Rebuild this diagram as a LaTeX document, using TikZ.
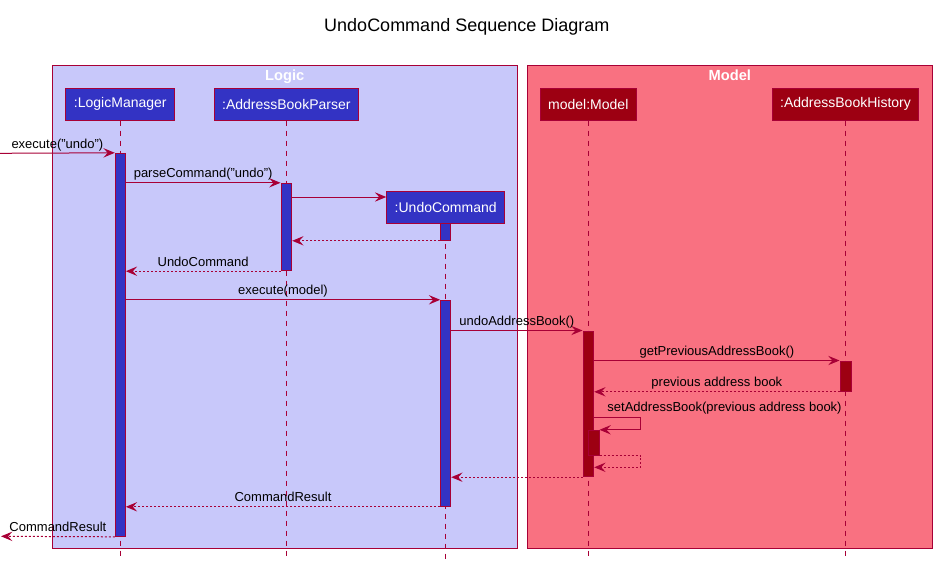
\documentclass[tikz,border=0pt]{standalone}
\usepackage{fontspec}
\setmainfont{Liberation Sans}
\usepackage{tikz}
\usetikzlibrary{arrows.meta}
\usetikzlibrary{positioning}
\usetikzlibrary{fit}

\definecolor{edge}{HTML}{A80036}
\definecolor{logicbg}{HTML}{C8C8FA}
\definecolor{modelbg}{HTML}{F97181}
\definecolor{logicpart}{HTML}{3333C4}
\definecolor{modelpart}{HTML}{9D0012}

\tikzset{
  grpbox/.style={draw=edge, line width=0.75pt, inner sep=0pt},
  grptitle/.style={text=white, anchor=base, font=\fontsize{11}{13}\selectfont\bfseries},
  lgpart/.style={draw=edge, fill=logicpart, text=white, line width=0.75pt,
    minimum height=24pt, inner xsep=6pt, font=\fontsize{10.5}{12.6}\selectfont},
  mdpart/.style={lgpart, fill=modelpart},
  lifeline/.style={draw=edge, line width=0.75pt, dash pattern=on 3.75pt off 3.75pt},
  lgact/.style={draw=edge, fill=logicpart, line width=0.75pt, inner sep=0pt},
  mdact/.style={lgact, fill=modelpart},
  msg/.style={draw=edge, line width=0.75pt,
    arrows={-Stealth[length=8.5pt, width=7pt, inset=3.2pt]}},
  ret/.style={msg, dash pattern=on 1.5pt off 1.5pt},
  lbl/.style={anchor=base, yshift=3.75pt, inner sep=0pt, text=black}
}

\begin{document}
\begin{tikzpicture}[x=0.75pt,y=-0.75pt,font=\fontsize{9.75}{11.7}\selectfont]
\useasboundingbox (0,0) rectangle (937,560);

\node[anchor=base, font=\fontsize{13.5}{16}\selectfont] (title) at (466.8,31.7) {UndoCommand Sequence Diagram};

% boxes
\node[grpbox, fill=logicbg, fit={(52.5,65.5) (517,548)}] (lgGrp) {};
\node[grpbox, fill=modelbg, fit={(527.3,65.5) (932.3,548)}] (mdGrp) {};
\node[grptitle] (lgTitle) at (lgGrp.north |- 0,80.5) {Logic};
\node[grptitle] (mdTitle) at (mdGrp.north |- 0,80.5) {Model};

% participants
\node[lgpart] (lm) at (120.3,104) {:LogicManager};
\node[lgpart] (abp) at (286.3,104) {:AddressBookParser};
\node[mdpart] (mdl) at (588.3,104) {model:Model};
\node[mdpart] (abh) at (845.5,104) {:AddressBookHistory};
\coordinate (bottom) at (0,560);
\draw[lifeline] (lm.south) -- (lm.south |- bottom);
\draw[lifeline] (abp.south) -- (abp.south |- bottom);
\draw[lifeline] (mdl.south) -- (mdl.south |- bottom);
\draw[lifeline] (abh.south) -- (abh.south |- bottom);
\draw[lifeline] (445.7,223.7) -- (445.7,560);
\node[lgpart] (uc) at (445.7,207.3) {:UndoCommand};

% activations
\node[lgact, fit={(115.3,153.3) (125.3,536.3)}] (lmA) {};
\node[lgact, fit={(281,183.3) (291.7,270.7)}] (abpA) {};
\node[lgact, fit={(440.7,223.7) (450.7,240.3)}] (ucA1) {};
\node[lgact, fit={(440.7,300.3) (450.7,506.3)}] (ucA2) {};
\node[mdact, fit={(583,331) (593.7,476.7)}] (mdlA) {};
\node[mdact, fit={(840,361) (851,391.3)}] (abhA) {};
\node[mdact, fit={(588.3,430.3) (599,455)}] (mdlA2) {};

\coordinate (in) at (0,153.3);
\coordinate (out) at (1,536.3);
\coordinate (crY) at (0,197);
\coordinate (selfR) at (640.7,417.3);
\coordinate (selfB) at (640.7,467.3);

% messages
\draw[msg] (in) -- node[lbl, midway] {execute("undo")} (lmA.north west);
\draw[msg] (lmA.east |- abpA.north) -- node[lbl, midway] {parseCommand("undo")} (abpA.north west);
\draw[msg] (abpA.east |- crY) -- (uc.west |- crY);
\draw[ret] (ucA1.south west) -- (abpA.east |- ucA1.south);
\draw[ret] (abpA.south west) -- node[lbl, midway] {UndoCommand} (lmA.east |- abpA.south);
\draw[msg] (lmA.east |- ucA2.north) -- node[lbl, midway] {execute(model)} (ucA2.north west);
\draw[msg] (ucA2.east |- mdlA.north) -- node[lbl, midway] {undoAddressBook()} (mdlA.north west);
\draw[msg] (mdlA.east |- abhA.north) -- node[lbl, midway] {getPreviousAddressBook()} (abhA.north west);
\draw[ret] (abhA.south west) -- node[lbl, midway] {previous address book} (mdlA.east |- abhA.south);
\draw[msg] (mdlA.east |- selfR) -- (selfR) |- (mdlA2.north east);
\node[lbl, anchor=base west, xshift=9.75pt, yshift=0.45pt] (selfLbl) at (mdlA.east |- selfR) {setAddressBook(previous address book)};
\draw[ret] (mdlA2.south east) -| (selfB) -- (mdlA.east |- selfB);
\draw[ret] (mdlA.south west) -- (ucA2.east |- mdlA.south);
\draw[ret] (ucA2.south west) -- node[lbl, midway] {CommandResult} (lmA.east |- ucA2.south);
\draw[ret] (lmA.south west) -- node[lbl, midway] {CommandResult} (out);
\end{tikzpicture}
\end{document}
